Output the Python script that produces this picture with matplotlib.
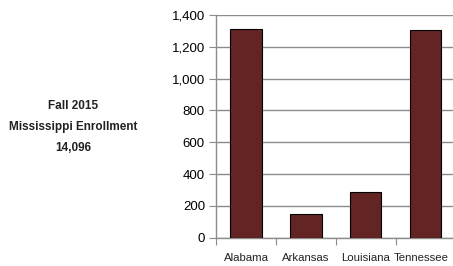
import matplotlib.pyplot as plt
import matplotlib.transforms as mtransforms
import numpy as np

plt.rcParams['font.family'] = ['Liberation Sans', 'DejaVu Sans']

states = ['Alabama', 'Arkansas', 'Louisiana', 'Tennessee']
enrollment = [1314, 146, 284, 1306]
y_ticks = [0, 200, 400, 600, 800, 1000, 1200, 1400]


def main():
    fig = plt.figure(figsize=(4.53, 2.66), dpi=100)
    ax = fig.add_axes([0.477, 0.107, 0.529, 0.836])

    x = np.arange(len(states))
    ax.bar(x, enrollment, width=0.52, color='#632523', edgecolor='black', linewidth=0.8, zorder=3)

    ax.set_xlim(-0.5, len(states) - 0.5)
    ax.set_ylim(0, 1400)
    ax.set_yticks(y_ticks)
    ax.set_yticklabels([f'{v:,}' for v in y_ticks])
    ax.yaxis.grid(True, color='#8c8c8c', linewidth=1.0, zorder=0)

    # category ticks sit between bars, labels drawn as text under each bar
    ax.set_xticks(np.arange(len(states) + 1) - 0.5)
    ax.set_xticklabels([])
    ax.tick_params(axis='x', which='major', length=5, color='#8c8c8c', direction='out')
    ax.tick_params(axis='y', length=5, color='#8c8c8c', labelsize=9.5, pad=3)
    trans = mtransforms.blended_transform_factory(ax.transData, ax.transAxes)
    for i, name in enumerate(states):
        shift = -0.08 if i == len(states) - 1 else 0
        ax.text(x[i] + shift, -0.09, name, transform=trans, ha='center', va='center',
                fontsize=8.2, color='#222222')

    for side in ['top', 'right']:
        ax.spines[side].set_visible(False)
    for side in ['left', 'bottom']:
        ax.spines[side].set_color('#8c8c8c')
        ax.spines[side].set_linewidth(1.0)

    fig.text(0.161, 0.523, 'Fall 2015\nMississippi Enrollment\n14,096', ha='center', va='center',
             fontsize=8.5, fontweight='bold', color='#222222', linespacing=2.0)

    fig.savefig('out.png', dpi=100)


if __name__ == "__main__":
    main()
